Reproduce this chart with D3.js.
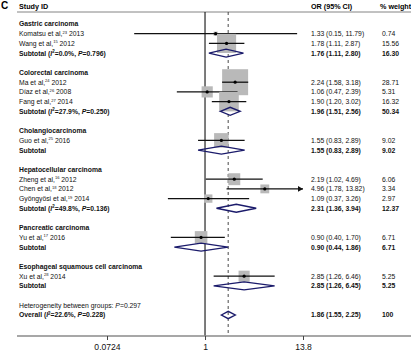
<!DOCTYPE html>
<html>
<head>
<meta charset="utf-8">
<script src="https://cdn.jsdelivr.net/npm/d3@7"></script>
<style>
  body { margin: 0; background: #fff; }
  svg { display: block; font-family: "Liberation Sans", Arial, sans-serif; }
</style>
</head>
<body>
<div id="chart"></div>
<script>
// groups (cancer types)
const groupNames = ["Gastric carcinoma", "Colorectal carcinoma", "Cholangiocarcinoma",
  "Hepatocellular carcinoma", "Pancreatic carcinoma", "Esophageal squamous cell carcinoma"];

// individual studies
const studyGroup  = [0, 0, 1, 1, 1, 2, 3, 3, 3, 4, 5];
const studyAuthor = ["Komatsu et al,", "Wang et al,", "Ma et al,", "Díaz et al,", "Fang et al,",
  "Guo et al,", "Zheng et al,", "Chen et al,", "Gyöngyösi et al,", "Yu et al,", "Xu et al,"];
const studyRef    = ["23", "15", "24", "26", "27", "25", "16", "18", "19", "17", "28"];
const studyYear   = ["2013", "2012", "2012", "2008", "2014", "2016", "2012", "2012", "2014", "2016", "2014"];
const studyOR     = [1.33, 1.78, 2.24, 1.06, 1.90, 1.55, 2.19, 4.96, 1.09, 0.90, 2.85];
const studyLo     = [0.15, 1.11, 1.58, 0.47, 1.20, 0.83, 1.02, 1.78, 0.37, 0.40, 1.26];
const studyHi     = [11.79, 2.87, 3.18, 2.39, 3.02, 2.89, 4.69, 13.82, 3.26, 1.70, 6.46];
const studyWeight = [0.74, 15.56, 28.71, 5.31, 16.32, 9.02, 6.06, 3.34, 2.97, 6.71, 5.25];

// subtotals per group
const subOR     = [1.76, 1.96, 1.55, 2.31, 0.90, 2.85];
const subLo     = [1.11, 1.51, 0.83, 1.36, 0.44, 1.26];
const subHi     = [2.80, 2.56, 2.89, 3.94, 1.86, 6.45];
const subWeight = ["16.30", "50.34", "9.02", "12.37", "6.71", "5.25"];
const subI2     = ["0.0%", "27.9%", null, "49.8%", null, null];
const subP      = ["0.796", "0.250", null, "0.136", null, null];

// overall
const overallOR = 1.86, overallLo = 1.55, overallHi = 2.25;
const overallI2 = "22.6%", overallP = "0.228", betweenP = "0.297";

// axis ticks
const tickValues = [0.0724, 1, 13.8];
const tickLabels = ["0.0724", "1", "13.8"];

const W = 411, H = 358;
const fs = 6.8;
const fmt = v => v.toFixed(2);

const svg = d3.select("#chart").append("svg")
  .attr("width", W).attr("height", H);

// build row list
const rows = [];
groupNames.forEach((g, gi) => {
  rows.push({type: "group", g: gi});
  studyGroup.forEach((sg, si) => { if (sg === gi) rows.push({type: "study", s: si}); });
  rows.push({type: "sub", g: gi});
  rows.push({type: "blank"});
});
rows.push({type: "het"});
rows.push({type: "overall"});

const y = d3.scaleLinear().domain([0, rows.length - 1]).range([24, 315]);
const x = d3.scaleLog().domain([tickValues[0], tickValues[2]]).range([107, 303]);
const xmin = tickValues[0], xmax = tickValues[2];

const colOR = 311, colW = 382, colLabel = 19;

// panel letter and header
svg.append("text").attr("x", 1).attr("y", 9)
  .attr("font-size", 10).attr("font-weight", "bold").text("C");
svg.append("text").attr("x", colLabel).attr("y", 9)
  .attr("font-size", 7.2).attr("font-weight", "bold").text("Study ID");
svg.append("text").attr("x", colOR).attr("y", 9)
  .attr("font-size", 7.2).attr("font-weight", "bold").text("OR (95% CI)");
svg.append("text").attr("x", 380).attr("y", 9)
  .attr("font-size", 7.2).attr("font-weight", "bold").text("% weight");
svg.append("line").attr("x1", 17).attr("x2", W).attr("y1", 12).attr("y2", 12)
  .attr("stroke", "#666").attr("stroke-width", 0.8);

// null line
svg.append("line").attr("x1", x(1)).attr("x2", x(1)).attr("y1", 12).attr("y2", 336)
  .attr("stroke", "#111").attr("stroke-width", 1.1);

// overall effect dashed line (behind the boxes)
svg.append("line").attr("x1", x(overallOR)).attr("x2", x(overallOR)).attr("y1", 12).attr("y2", 335)
  .attr("stroke", "#333").attr("stroke-width", 0.9).attr("stroke-dasharray", "3,3");

const marks = svg.append("g");
const texts = svg.append("g").attr("font-size", fs).attr("fill", "#111");

function hetText(sel, label, i2, p) {
  sel.append("tspan").text(label + " (");
  sel.append("tspan").attr("font-style", "italic").text("I");
  sel.append("tspan").attr("font-size", fs * 0.65).attr("dy", -2.5).text("2");
  sel.append("tspan").attr("dy", 2.5).text("=" + i2 + ", ");
  sel.append("tspan").attr("font-style", "italic").text("P");
  sel.append("tspan").text("=" + p + ")");
}

function diamond(cy, or, lo, hi, h) {
  const pts = [[x(lo), cy], [x(or), cy - h], [x(hi), cy], [x(or), cy + h]];
  marks.append("path").attr("d", "M" + pts.join("L") + "Z")
    .attr("fill", "none").attr("stroke", "#1b1b6b").attr("stroke-width", 1.4);
}

rows.forEach((r, i) => {
  const cy = y(i);
  const ty = cy + 2.4;
  if (r.type === "group") {
    texts.append("text").attr("x", colLabel).attr("y", ty).attr("font-weight", "bold")
      .text(groupNames[r.g]);
  } else if (r.type === "study") {
    const s = r.s;
    const t = texts.append("text").attr("x", colLabel).attr("y", ty);
    t.append("tspan").text(studyAuthor[s]);
    t.append("tspan").attr("font-size", fs * 0.6).attr("dy", -2.5).text(studyRef[s]);
    t.append("tspan").attr("dy", 2.5).text(" " + studyYear[s]);
    texts.append("text").attr("x", colOR).attr("y", ty)
      .text(fmt(studyOR[s]) + " (" + fmt(studyLo[s]) + ", " + fmt(studyHi[s]) + ")");
    texts.append("text").attr("x", colW).attr("y", ty).text(fmt(studyWeight[s]));
    // weight box
    const side = 4.85 * Math.sqrt(studyWeight[s]);
    marks.append("rect").attr("x", x(studyOR[s]) - side / 2).attr("y", cy - side / 2)
      .attr("width", side).attr("height", side).attr("fill", "#b9b9b9");
    // CI line
    const lo = Math.max(studyLo[s], xmin), hi = Math.min(studyHi[s], xmax);
    marks.append("line").attr("x1", x(lo)).attr("x2", x(hi)).attr("y1", cy).attr("y2", cy)
      .attr("stroke", "#111").attr("stroke-width", 1.3);
    if (studyHi[s] > xmax) {
      const ax = x(xmax);
      marks.append("path").attr("d", `M${ax},${cy}L${ax - 5},${cy - 2.8}L${ax - 5},${cy + 2.8}Z`)
        .attr("fill", "#111");
    }
    if (studyLo[s] < xmin) {
      const ax = x(xmin);
      marks.append("path").attr("d", `M${ax},${cy}L${ax + 5},${cy - 2.8}L${ax + 5},${cy + 2.8}Z`)
        .attr("fill", "#111");
    }
    marks.append("circle").attr("cx", x(studyOR[s])).attr("cy", cy).attr("r", 1.6)
      .attr("fill", "#000");
  } else if (r.type === "sub") {
    const g = r.g;
    const t = texts.append("text").attr("x", colLabel).attr("y", ty).attr("font-weight", "bold");
    if (subI2[g] !== null) hetText(t, "Subtotal", subI2[g], subP[g]);
    else t.text("Subtotal");
    texts.append("text").attr("x", colOR).attr("y", ty).attr("font-weight", "bold")
      .text(fmt(subOR[g]) + " (" + fmt(subLo[g]) + ", " + fmt(subHi[g]) + ")");
    texts.append("text").attr("x", colW).attr("y", ty).attr("font-weight", "bold")
      .text(subWeight[g]);
    diamond(cy, subOR[g], subLo[g], subHi[g], 4);
  } else if (r.type === "het") {
    const t = texts.append("text").attr("x", colLabel).attr("y", ty);
    t.append("tspan").text("Heterogeneity between groups: ");
    t.append("tspan").attr("font-style", "italic").text("P");
    t.append("tspan").text("=" + betweenP);
  } else if (r.type === "overall") {
    const t = texts.append("text").attr("x", colLabel).attr("y", ty).attr("font-weight", "bold");
    hetText(t, "Overall", overallI2, overallP);
    texts.append("text").attr("x", colOR).attr("y", ty).attr("font-weight", "bold")
      .text(fmt(overallOR) + " (" + fmt(overallLo) + ", " + fmt(overallHi) + ")");
    texts.append("text").attr("x", colW).attr("y", ty).attr("font-weight", "bold").text("100");
    diamond(cy, overallOR, overallLo, overallHi, 3.7);
  }
});

// x axis
svg.append("line").attr("x1", 17).attr("x2", W).attr("y1", 336).attr("y2", 336)
  .attr("stroke", "#8a8a8a").attr("stroke-width", 1.6);
const axis = svg.append("g").attr("transform", "translate(0,336)")
  .call(d3.axisBottom(x).tickValues(tickValues)
    .tickFormat((d, i) => tickLabels[i]).tickSizeOuter(0).tickSize(4));
axis.select(".domain").remove();
axis.selectAll(".tick line").attr("stroke", "#444");
axis.selectAll(".tick text").attr("font-size", 8.6).attr("fill", "#111")
  .attr("font-family", "Liberation Sans, Arial, sans-serif").attr("dy", "0.85em");
</script>
</body>
</html>
